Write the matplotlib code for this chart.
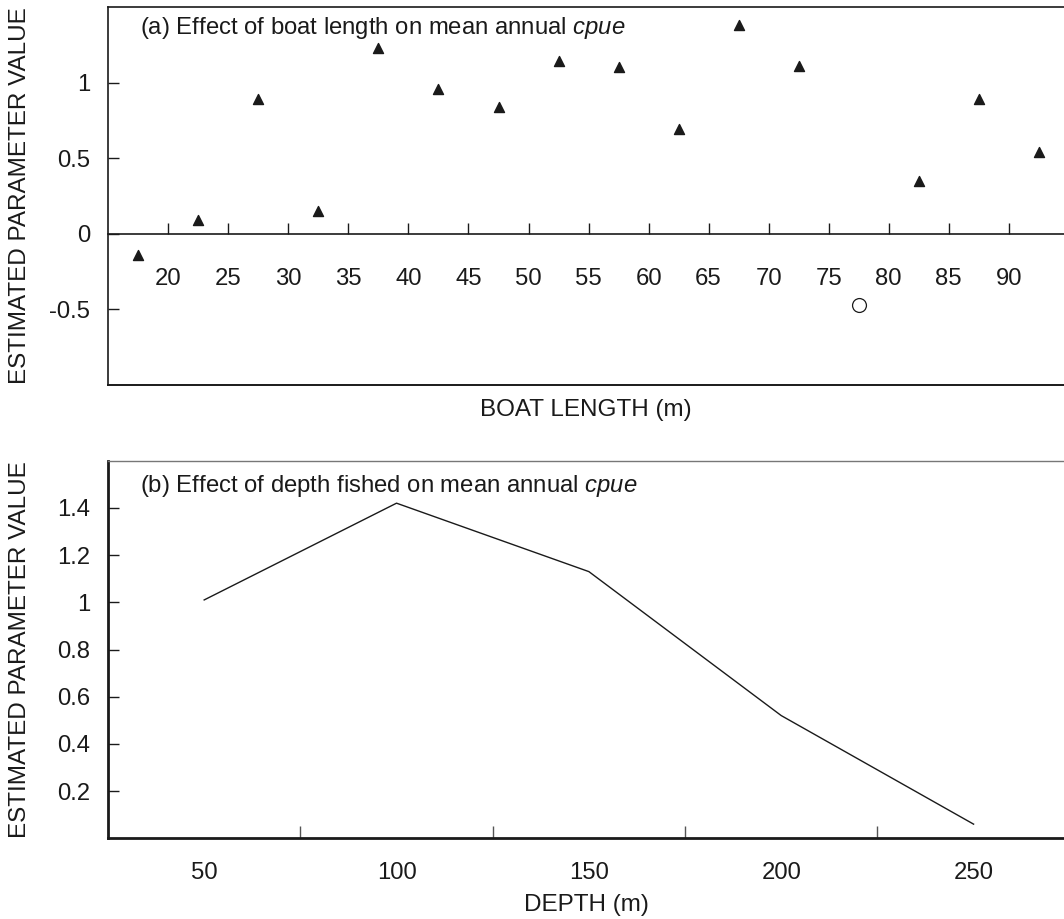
import matplotlib
matplotlib.use("Agg")
import matplotlib.pyplot as plt
from matplotlib.ticker import FixedLocator, NullFormatter

plt.rcParams['font.family'] = ['Liberation Sans', 'DejaVu Sans']
plt.rcParams['mathtext.fontset'] = 'custom'
plt.rcParams['mathtext.rm'] = 'Liberation Sans'
plt.rcParams['mathtext.it'] = 'Liberation Sans:italic'

# (a) boat length classes (mid points) and estimates
boat_len = [17.5, 22.5, 27.5, 32.5, 37.5, 42.5, 47.5, 52.5,
            57.5, 62.5, 67.5, 72.5, 82.5, 87.5, 92.5]
boat_est = [-0.14, 0.09, 0.89, 0.15, 1.23, 0.96, 0.84, 1.14,
            1.10, 0.69, 1.38, 1.11, 0.35, 0.89, 0.54]
# reference class (open circle)
ref_len = [77.5]
ref_est = [-0.47]
boat_ticks = [20, 25, 30, 35, 40, 45, 50, 55, 60, 65, 70, 75, 80, 85, 90]
boat_yticks = [-0.5, 0, 0.5, 1]
boat_ylabels = ["-0.5", "0", "0.5", "1"]

# (b) depth fished
depth = [50, 100, 150, 200, 250]
depth_est = [1.01, 1.42, 1.13, 0.52, 0.06]
depth_labels = [50, 100, 150, 200, 250]
depth_ticks = [75, 125, 175, 225]
depth_yticks = [0.2, 0.4, 0.6, 0.8, 1.0, 1.2, 1.4]
depth_ylabels = ["0.2", "0.4", "0.6", "0.8", "1", "1.2", "1.4"]

FS = 17.2
LFS = 17.5
ink = "#1a1a1a"

fig = plt.figure(figsize=(10.64, 9.19), dpi=100)
ax1 = fig.add_axes([0.1018, 0.5811, 0.8982, 0.4113])
ax2 = fig.add_axes([0.1015, 0.0878, 0.8985, 0.4109])

# ---- panel (a)
ax1.scatter(boat_len, boat_est, marker="^", s=52, color=ink, zorder=3)
ax1.scatter(ref_len, ref_est, marker="o", s=100, facecolor="white",
            edgecolor=ink, linewidth=0.9, zorder=3)
ax1.set_xlim(15, 94.6)
ax1.set_ylim(-1.0, 1.5)
ax1.spines['bottom'].set_position(('data', 0))
ax1.spines['right'].set_visible(False)
for s in ['bottom', 'left', 'top']:
    ax1.spines[s].set_linewidth(1.2)
    ax1.spines[s].set_color(ink)
# lower frame line
ax1.plot([0, 1], [0, 0], transform=ax1.transAxes, color=ink, lw=1.4,
         clip_on=False)
ax1.set_xticks(boat_ticks)
ax1.set_yticks(boat_yticks)
ax1.set_yticklabels(boat_ylabels)
ax1.tick_params(axis='x', direction='in', length=8, width=1, pad=25,
                labelsize=FS, colors=ink)
ax1.tick_params(axis='y', direction='in', length=8, width=1, pad=13,
                labelsize=FS, colors=ink)
ax1.text(0.033, 0.928, "(a) Effect of boat length on mean annual $\\mathit{cpue}$",
         transform=ax1.transAxes, fontsize=FS, va='baseline', ha='left', color=ink)
ax1.set_xlabel("BOAT LENGTH (m)", fontsize=LFS, color=ink)
ax1.xaxis.set_label_coords(0.5, -0.036)
ax1.xaxis.label.set_va('top')
ax1.set_ylabel("ESTIMATED PARAMETER VALUE", fontsize=LFS, color=ink)
ax1.yaxis.set_label_coords(-0.0805, 0.5)

# ---- panel (b)
ax2.plot(depth, depth_est, color=ink, lw=1.0)
ax2.set_xlim(25, 273.5)
ax2.set_ylim(0, 1.6)
ax2.spines['right'].set_visible(False)
ax2.spines['top'].set_color("#777777")
ax2.spines['top'].set_linewidth(1.0)
for s in ['bottom', 'left']:
    ax2.spines[s].set_linewidth(2.0)
    ax2.spines[s].set_color(ink)
ax2.set_xticks(depth_labels)
ax2.xaxis.set_minor_locator(FixedLocator(depth_ticks))
ax2.xaxis.set_minor_formatter(NullFormatter())
ax2.set_yticks(depth_yticks)
ax2.set_yticklabels(depth_ylabels)
ax2.tick_params(axis='x', which='major', length=0, pad=17, labelsize=FS,
                colors=ink)
ax2.tick_params(axis='x', which='minor', direction='in', length=9, width=1,
                color="#555555")
ax2.tick_params(axis='y', direction='in', length=8, width=1, pad=13,
                labelsize=FS, colors=ink)
ax2.text(0.033, 0.918, "(b) Effect of depth fished on mean annual $\\mathit{cpue}$",
         transform=ax2.transAxes, fontsize=FS, va='baseline', ha='left', color=ink)
ax2.set_xlabel("DEPTH (m)", fontsize=LFS, color=ink)
ax2.xaxis.set_label_coords(0.5, -0.148)
ax2.xaxis.label.set_va('top')
ax2.set_ylabel("ESTIMATED PARAMETER VALUE", fontsize=LFS, color=ink)
ax2.yaxis.set_label_coords(-0.0805, 0.5)

fig.savefig("out.png", dpi=100)
